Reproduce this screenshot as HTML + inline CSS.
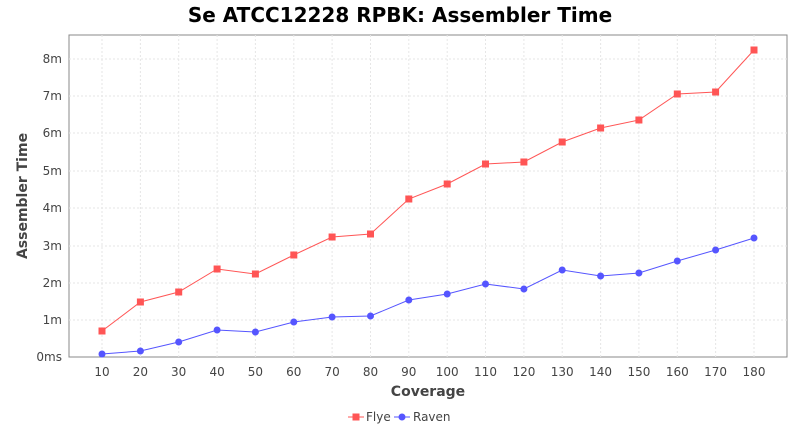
<!DOCTYPE html>
<html><head><style>
body{margin:0;background:#fff;}
svg{display:block;font-family:"DejaVu Sans","Liberation Sans",sans-serif;}
</style></head><body>
<svg width="800" height="430" viewBox="0 0 800 430">
<text x="400" y="22" text-anchor="middle" font-size="20" font-weight="bold" fill="#000">Se ATCC12228 RPBK: Assembler Time</text>
<rect x="69" y="35" width="718" height="322" fill="#fff" stroke="#888" stroke-width="1"/>
<g stroke="#e6e6e6" stroke-dasharray="2,2" stroke-width="1">
<line x1="69" x2="787" y1="320" y2="320"/><line x1="69" x2="787" y1="283" y2="283"/><line x1="69" x2="787" y1="246" y2="246"/><line x1="69" x2="787" y1="208" y2="208"/><line x1="69" x2="787" y1="171" y2="171"/><line x1="69" x2="787" y1="133" y2="133"/><line x1="69" x2="787" y1="96" y2="96"/><line x1="69" x2="787" y1="59" y2="59"/>
<line y1="35" y2="357" x1="102" x2="102"/><line y1="35" y2="357" x1="140.4" x2="140.4"/><line y1="35" y2="357" x1="178.7" x2="178.7"/><line y1="35" y2="357" x1="217.1" x2="217.1"/><line y1="35" y2="357" x1="255.4" x2="255.4"/><line y1="35" y2="357" x1="293.8" x2="293.8"/><line y1="35" y2="357" x1="332.1" x2="332.1"/><line y1="35" y2="357" x1="370.5" x2="370.5"/><line y1="35" y2="357" x1="408.8" x2="408.8"/><line y1="35" y2="357" x1="447.2" x2="447.2"/><line y1="35" y2="357" x1="485.5" x2="485.5"/><line y1="35" y2="357" x1="523.9" x2="523.9"/><line y1="35" y2="357" x1="562.2" x2="562.2"/><line y1="35" y2="357" x1="600.6" x2="600.6"/><line y1="35" y2="357" x1="638.9" x2="638.9"/><line y1="35" y2="357" x1="677.3" x2="677.3"/><line y1="35" y2="357" x1="715.6" x2="715.6"/><line y1="35" y2="357" x1="754" x2="754"/>
</g>
<g font-size="12" fill="#444" text-anchor="end">
<text x="62" y="361">0ms</text><text x="62" y="324">1m</text><text x="62" y="287">2m</text><text x="62" y="250">3m</text><text x="62" y="212">4m</text><text x="62" y="175">5m</text><text x="62" y="137">6m</text><text x="62" y="100">7m</text><text x="62" y="63">8m</text>
</g>
<g font-size="12" fill="#444" text-anchor="middle">
<text x="102" y="376">10</text><text x="140.4" y="376">20</text><text x="178.7" y="376">30</text><text x="217.1" y="376">40</text><text x="255.4" y="376">50</text><text x="293.8" y="376">60</text><text x="332.1" y="376">70</text><text x="370.5" y="376">80</text><text x="408.8" y="376">90</text><text x="447.2" y="376">100</text><text x="485.5" y="376">110</text><text x="523.9" y="376">120</text><text x="562.2" y="376">130</text><text x="600.6" y="376">140</text><text x="638.9" y="376">150</text><text x="677.3" y="376">160</text><text x="715.6" y="376">170</text><text x="754" y="376">180</text>
</g>
<text x="428" y="396" text-anchor="middle" font-size="14" font-weight="bold" fill="#444">Coverage</text>
<text transform="translate(27,196) rotate(-90)" text-anchor="middle" font-size="14" font-weight="bold" fill="#444">Assembler Time</text>
<polyline fill="none" stroke="#ff5555" stroke-width="1" points="102,331 140.4,302 178.7,292 217.1,269 255.4,274 293.8,255 332.1,237 370.5,234 408.8,199 447.2,184 485.5,164 523.9,162 562.2,142 600.6,128 638.9,120 677.3,94 715.6,92 754,50"/>
<g fill="#ff5555">
<rect x="98.5" y="327.5" width="7" height="7"/><rect x="136.9" y="298.5" width="7" height="7"/><rect x="175.2" y="288.5" width="7" height="7"/><rect x="213.6" y="265.5" width="7" height="7"/><rect x="251.9" y="270.5" width="7" height="7"/><rect x="290.3" y="251.5" width="7" height="7"/><rect x="328.6" y="233.5" width="7" height="7"/><rect x="367" y="230.5" width="7" height="7"/><rect x="405.3" y="195.5" width="7" height="7"/><rect x="443.7" y="180.5" width="7" height="7"/><rect x="482" y="160.5" width="7" height="7"/><rect x="520.4" y="158.5" width="7" height="7"/><rect x="558.7" y="138.5" width="7" height="7"/><rect x="597.1" y="124.5" width="7" height="7"/><rect x="635.4" y="116.5" width="7" height="7"/><rect x="673.8" y="90.5" width="7" height="7"/><rect x="712.1" y="88.5" width="7" height="7"/><rect x="750.5" y="46.5" width="7" height="7"/>
</g>
<polyline fill="none" stroke="#5555ff" stroke-width="1" points="102,354 140.4,351 178.7,342 217.1,330 255.4,332 293.8,322 332.1,317 370.5,316 408.8,300 447.2,294 485.5,284 523.9,289 562.2,270 600.6,276 638.9,273 677.3,261 715.6,250 754,238"/>
<g fill="#5555ff">
<circle cx="102" cy="354" r="3.5"/><circle cx="140.4" cy="351" r="3.5"/><circle cx="178.7" cy="342" r="3.5"/><circle cx="217.1" cy="330" r="3.5"/><circle cx="255.4" cy="332" r="3.5"/><circle cx="293.8" cy="322" r="3.5"/><circle cx="332.1" cy="317" r="3.5"/><circle cx="370.5" cy="316" r="3.5"/><circle cx="408.8" cy="300" r="3.5"/><circle cx="447.2" cy="294" r="3.5"/><circle cx="485.5" cy="284" r="3.5"/><circle cx="523.9" cy="289" r="3.5"/><circle cx="562.2" cy="270" r="3.5"/><circle cx="600.6" cy="276" r="3.5"/><circle cx="638.9" cy="273" r="3.5"/><circle cx="677.3" cy="261" r="3.5"/><circle cx="715.6" cy="250" r="3.5"/><circle cx="754" cy="238" r="3.5"/>
</g>
<line x1="348" x2="364" y1="417" y2="417" stroke="#ff5555"/><rect x="352.5" y="413.5" width="7" height="7" fill="#ff5555"/>
<text x="366" y="421" font-size="12" fill="#444">Flye</text>
<line x1="394" x2="410" y1="417" y2="417" stroke="#5555ff"/><circle cx="402" cy="417" r="3.5" fill="#5555ff"/>
<text x="413" y="421" font-size="12" fill="#444">Raven</text>
</svg>
</body></html>
